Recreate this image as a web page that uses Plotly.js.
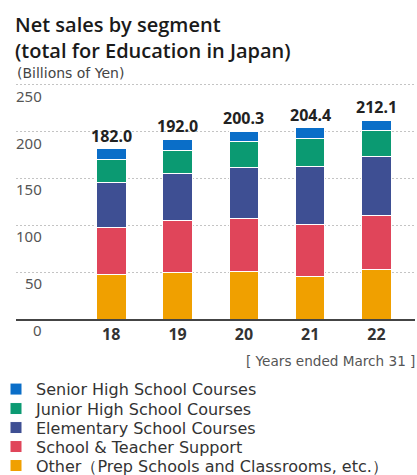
<!DOCTYPE html>
<html>
<head>
<meta charset="utf-8">
<script src="https://cdn.plot.ly/plotly-3.0.1.min.js"></script>
<style>html,body{margin:0;padding:0;background:#fff;}#chart{width:417px;height:475px;}</style>
</head>
<body>
<div id="chart"></div>
<script>
// ---- data (Billions of Yen), fiscal years ended March 31 ----
var years = ['18', '19', '20', '21', '22'];
var other = [47.3, 49.8, 50.2, 45.5, 52.7];
var schoolTeacher = [50.6, 54.9, 57.0, 55.2, 57.3];
var elementary = [48.0, 50.2, 54.8, 62.0, 63.1];
var junior = [24.3, 25.2, 27.1, 29.9, 28.4];
var senior = [11.8, 11.9, 11.2, 11.8, 10.6];
var totals = [182.0, 192.0, 200.3, 204.4, 212.1];
var seriesNames = [
  'Other（Prep Schools and Classrooms, etc.）',
  'School & Teacher Support',
  'Elementary School Courses',
  'Junior High School Courses',
  'Senior High School Courses'
];
var seriesColors = ['#f0a000', '#e0455a', '#3e4f93', '#0b9a72', '#0a6ec8'];
var yTicks = [0, 50, 100, 150, 200, 250];

var W = 417, H = 475;
var yMax = 253;
var mL = 16, mR = 2, mB = 155.7;
var mT = H - mB - yMax * (234.3 / 250);
var plotW = W - mL - mR, plotH = H - mT - mB;
function px2paperX(px) { return (px - mL) / plotW; }
function px2paperY(py) { return (H - mB - py) / plotH; }

var textFont = 'DejaVu Sans, sans-serif';
var numFont = 'Noto Sans, sans-serif';

var seriesData = [other, schoolTeacher, elementary, junior, senior];
var legendIds = ['legend5', 'legend4', 'legend3', 'legend2', 'legend'];
var legendRowY = [466, 447, 428, 409, 389.5];

var traces = seriesData.map(function (vals, i) {
  return {
    type: 'bar',
    x: years,
    y: vals,
    name: seriesNames[i],
    legend: legendIds[i],
    showlegend: true,
    marker: { color: seriesColors[i], line: { color: '#ffffff', width: 1 } },
    hoverinfo: 'skip'
  };
});

var annotations = years.map(function (yr, i) {
  return {
    x: i, y: totals[i], xref: 'x', yref: 'y',
    text: totals[i].toFixed(1), showarrow: false,
    yanchor: 'middle', yshift: 13,
    font: { family: numFont, size: 16, color: '#222', weight: 'bold' }
  };
});
yTicks.forEach(function (v) {
  annotations.push({
    xref: 'paper', yref: 'y', x: px2paperX(44), y: v,
    xanchor: 'right', yanchor: 'middle', yshift: -11,
    showarrow: false, text: String(v),
    font: { family: numFont, size: 15, color: '#555' }
  });
});
annotations.push({
  xref: 'paper', yref: 'paper', x: px2paperX(15), y: px2paperY(73.5),
  xanchor: 'left', yanchor: 'middle', showarrow: false,
  text: '(Billions of Yen)',
  font: { family: textFont, size: 14, color: '#444' }
});
annotations.push({
  xref: 'paper', yref: 'paper', x: px2paperX(417), y: px2paperY(361),
  xanchor: 'right', yanchor: 'middle', showarrow: false,
  text: '[ Years ended March 31 ]',
  font: { family: textFont, size: 13.6, color: '#555' }
});

var layout = {
  width: W, height: H,
  margin: { l: mL, r: mR, t: mT, b: mB, pad: 0, autoexpand: false },
  paper_bgcolor: '#ffffff', plot_bgcolor: '#ffffff',
  barmode: 'stack', bargap: 0.555,
  hovermode: false,
  showlegend: true,
  title: {
    text: 'Net sales by segment<br>(total for Education in Japan)',
    xref: 'container', yref: 'container',
    x: 15 / W, xanchor: 'left',
    y: 1 - 32 / H, yanchor: 'top',
    font: { family: 'Open Sans, sans-serif', size: 20, color: '#1a1a1a', weight: 600 }
  },
  xaxis: {
    type: 'category', range: [-1.437, 4.581],
    showline: true, linecolor: '#444', linewidth: 1.5,
    ticks: '', showgrid: false, zeroline: false,
    tickfont: { family: numFont, size: 16, color: '#333', weight: 'bold' },
    ticklabelstandoff: 0
  },
  yaxis: {
    range: [0, yMax], tickvals: yTicks,
    showticklabels: false, ticks: '',
    showgrid: true, gridcolor: '#c4c4c4', gridwidth: 1, griddash: '2px,2px',
    zeroline: false, showline: false
  },
  annotations: annotations
};

legendIds.forEach(function (id, i) {
  layout[id] = {
    x: px2paperX(-4), xanchor: 'left',
    y: px2paperY(legendRowY[i]), yanchor: 'middle',
    bgcolor: 'rgba(0,0,0,0)', borderwidth: 0,
    font: { family: textFont, size: 16, color: '#333' }
  };
});

Plotly.newPlot('chart', traces, layout, { staticPlot: true, displayModeBar: false });
</script>
</body>
</html>
